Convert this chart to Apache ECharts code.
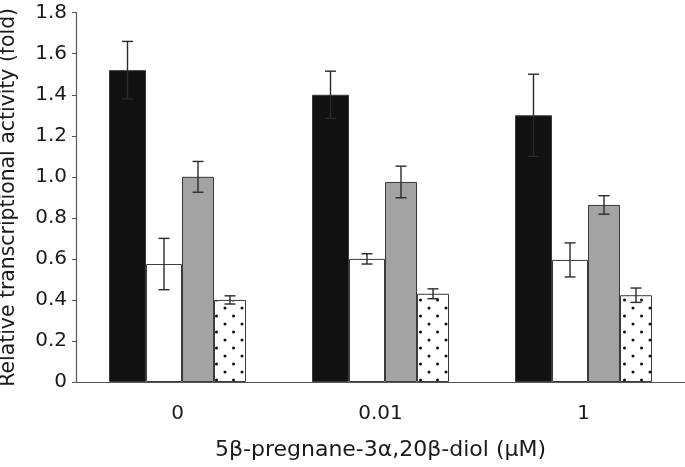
<!DOCTYPE html>
<html>
<head>
<meta charset="utf-8">
<script src="https://cdn.jsdelivr.net/npm/echarts@6/dist/echarts.min.js"></script>
<style>html,body{margin:0;padding:0;background:#fff}#c{width:685px;height:467px}</style>
</head>
<body>
<div id="c"></div>
<script>
var categories = ['0', '0.01', '1'];
var blackVals = [1.52, 1.40, 1.30];
var blackErr = [0.14, 0.115, 0.20];
var whiteVals = [0.575, 0.60, 0.595];
var whiteErr = [0.125, 0.025, 0.083];
var grayVals = [1.00, 0.975, 0.863];
var grayErr = [0.075, 0.077, 0.045];
var dotVals = [0.40, 0.43, 0.423];
var dotErr = [0.02, 0.024, 0.035];
var yTicks = [0, 0.2, 0.4, 0.6, 0.8, 1.0, 1.2, 1.4, 1.6, 1.8];

var widths = [37, 36, 32, 32];
var total = widths.reduce(function(a,b){return a+b;},0);
var offsets = [];
var acc = -total/2;
for (var i=0;i<widths.length;i++){ offsets.push(acc + widths[i]/2); acc += widths[i]; }

// dot pattern
var pc = document.createElement('canvas');
pc.width = 17; pc.height = 16;
var pctx = pc.getContext('2d');
pctx.fillStyle = '#fff'; pctx.fillRect(0,0,17,16);
pctx.fillStyle = '#111';
pctx.beginPath(); pctx.arc(4,4,1.5,0,Math.PI*2); pctx.fill();
pctx.beginPath(); pctx.arc(12.5,12,1.5,0,Math.PI*2); pctx.fill();

var allVals = [blackVals, whiteVals, grayVals, dotVals];
var allErr = [blackErr, whiteErr, grayErr, dotErr];
var errData = [];
for (var s=0;s<4;s++){
  for (var c=0;c<categories.length;c++){
    errData.push([c, allVals[s][c], allErr[s][c], s]);
  }
}

var FONT = 'DejaVu Sans';
var chart = echarts.init(document.getElementById('c'));
var borderCol = '#3a3a3a';
function barSeries(vals, w, color){
  return {type:'bar', data: vals, barWidth: w, barGap: '0%',
    itemStyle:{color: color, borderColor: borderCol, borderWidth: 1}, z:2};
}
chart.setOption({
  animation:false,
  grid:{left:76, right:0, top:12.7, bottom:85, containLabel:false, outerBoundsMode:'none'},
  xAxis:{type:'category', data: categories,
    axisLine:{lineStyle:{color:'#555', width:1.2}},
    axisTick:{show:false},
    axisLabel:{fontFamily:FONT, fontSize:20, color:'#1a1a1a', margin:22},
    name:'5β-pregnane-3α,20β-diol (μM)', nameLocation:'middle', nameGap:57,
    nameTextStyle:{fontFamily:FONT, fontSize:22, color:'#1a1a1a'}
  },
  yAxis:{type:'value', min:0, max:1.8, interval:0.2,
    axisLine:{show:true, lineStyle:{color:'#555', width:1.2}},
    axisTick:{show:true, length:4, lineStyle:{color:'#555'}},
    splitLine:{show:false},
    axisLabel:{fontFamily:FONT, fontSize:20, color:'#1a1a1a', margin:9,
      formatter:function(v){ return v===0 ? '0' : v.toFixed(1); }},
    name:'Relative transcriptional activity (fold)', nameLocation:'middle', nameGap:57,
    nameTextStyle:{fontFamily:FONT, fontSize:20.4, color:'#1a1a1a'}
  },
  series:[
    barSeries(blackVals, widths[0], '#111111'),
    barSeries(whiteVals, widths[1], '#ffffff'),
    barSeries(grayVals, widths[2], '#a3a3a3'),
    barSeries(dotVals, widths[3], {image: pc, repeat:'repeat'}),
    {type:'custom', data: errData, z:5,
      renderItem:function(params, api){
        var cat = api.value(0), v = api.value(1), e = api.value(2), s = api.value(3);
        var top = api.coord([cat, v+e]);
        var bot = api.coord([cat, v-e]);
        var x = top[0] + offsets[s];
        var st = {stroke:'#2a2a2a', lineWidth:1.4};
        var cw = 5.5;
        return {type:'group', children:[
          {type:'line', shape:{x1:x, y1:top[1], x2:x, y2:bot[1]}, style:st},
          {type:'line', shape:{x1:x-cw, y1:top[1], x2:x+cw, y2:top[1]}, style:st},
          {type:'line', shape:{x1:x-cw, y1:bot[1], x2:x+cw, y2:bot[1]}, style:st}
        ]};
      }
    }
  ]
});
</script>
</body>
</html>
